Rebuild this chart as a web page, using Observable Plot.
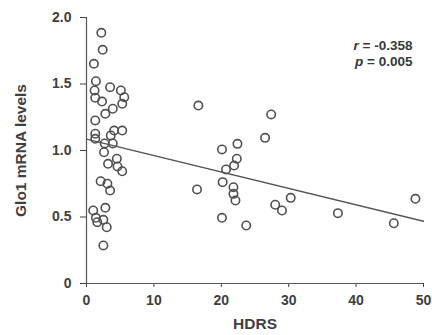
<!DOCTYPE html>
<html>
<head>
<meta charset="utf-8">
<script src="https://cdn.jsdelivr.net/npm/d3@7"></script>
<script src="https://cdn.jsdelivr.net/npm/@observablehq/plot@0.6"></script>
<style>
  html, body { margin: 0; padding: 0; background: #fff; }
  #chart { width: 432px; height: 335px; }
</style>
</head>
<body>
<div id="chart"></div>
<script>
// HDRS score (x) and Glo1 mRNA level (y) per subject
const hdrs = [
  2.2, 2.4, 1.1, 1.4, 1.2, 1.3, 3.5, 5.1, 5.6, 5.3, 2.3, 3.9, 2.8, 1.3, 1.3, 4.1, 5.3, 3.6, 1.3,
  2.7, 3.9, 2.6, 4.5, 3.2, 4.6, 5.3, 2.1, 3.1, 3.5, 1.0, 2.8, 1.4, 2.5, 1.6, 3.0, 2.5,
  16.6, 27.4, 26.5, 20.1, 22.4, 22.3, 21.9, 20.7, 20.2, 16.4, 21.8, 21.8, 22.1, 30.3, 28.0, 29.0,
  20.1, 23.7, 37.3, 45.6, 48.8
];
const glo1 = [
  1.885, 1.757, 1.652, 1.521, 1.451, 1.396, 1.476, 1.451, 1.401, 1.351, 1.368, 1.314, 1.276, 1.226, 1.126, 1.150, 1.150, 1.113, 1.088,
  1.053, 1.053, 0.987, 0.938, 0.900, 0.880, 0.844, 0.769, 0.750, 0.699, 0.549, 0.569, 0.494, 0.479, 0.461, 0.423, 0.286,
  1.338, 1.271, 1.095, 1.008, 1.050, 0.938, 0.887, 0.857, 0.762, 0.707, 0.724, 0.674, 0.624, 0.644, 0.592, 0.549,
  0.494, 0.436, 0.529, 0.453, 0.637
];
// regression line
const fitX = [0, 50];
const fitY = [1.086, 0.468];
const xTicks = [0, 10, 20, 30, 40, 50];
const yTicks = [0, 0.5, 1.0, 1.5, 2.0];
const statLines = ["r = -0.358", "p = 0.005"];

const points = hdrs.map((x, i) => ({x, y: glo1[i]}));
const fit = fitX.map((x, i) => ({x, y: fitY[i]}));

const ink = "#404040";
const plot = Plot.plot({
  width: 432,
  height: 335,
  marginLeft: 86,
  marginRight: 9,
  marginTop: 17,
  marginBottom: 52,
  style: {fontFamily: "'Liberation Sans', Arial, sans-serif", fontSize: "14px", fontWeight: "bold", color: ink, background: "#fff"},
  x: {domain: [0, 50]},
  y: {domain: [0, 2]},
  marks: [
    Plot.axisY({ticks: yTicks, tickFormat: d => d === 0 ? "0" : d.toFixed(1), tickSize: 6, tickPadding: 9,
      label: "Glo1 mRNA levels", labelAnchor: "center", labelArrow: "none", labelOffset: 72, fontSize: 14}),
    Plot.axisX({ticks: xTicks, tickSize: 4, tickPadding: 8,
      label: "HDRS", labelAnchor: "center", labelArrow: "none", labelOffset: 45, fontSize: 14}),
    Plot.ruleX([0], {stroke: "#555", strokeWidth: 1.2}),
    Plot.ruleY([0], {stroke: "#555", strokeWidth: 1.2}),
    Plot.line(fit, {x: "x", y: "y", stroke: "#555", strokeWidth: 1.3}),
    Plot.dot(points, {x: "x", y: "y", r: 4.2, stroke: "#505050", strokeWidth: 1.6, fill: "white", fillOpacity: 0}),
    Plot.text(statLines, {text: d => d, frameAnchor: "top-right", textAnchor: "end",
      fontSize: 13.5, fontWeight: "bold", fill: "#383838"})
  ]
});
document.getElementById("chart").appendChild(plot);

// style axis labels and make the r / p letters italic
const svg = d3.select(plot);
svg.selectAll("[aria-label='y-axis label'] text, [aria-label='x-axis label'] text").attr("font-size", 15.5);
const statText = svg.selectAll("[aria-label='text'] text");
statText.each(function(d, i) {
  const t = d3.select(this);
  const s = statLines[i];
  t.text(null);
  t.append("tspan").attr("font-style", "italic").text(s.charAt(0));
  t.append("tspan").text(s.slice(1));
  t.attr("transform", `translate(${412},${40 + i * 16})`);
  t.attr("dy", null);
});
</script>
</body>
</html>
